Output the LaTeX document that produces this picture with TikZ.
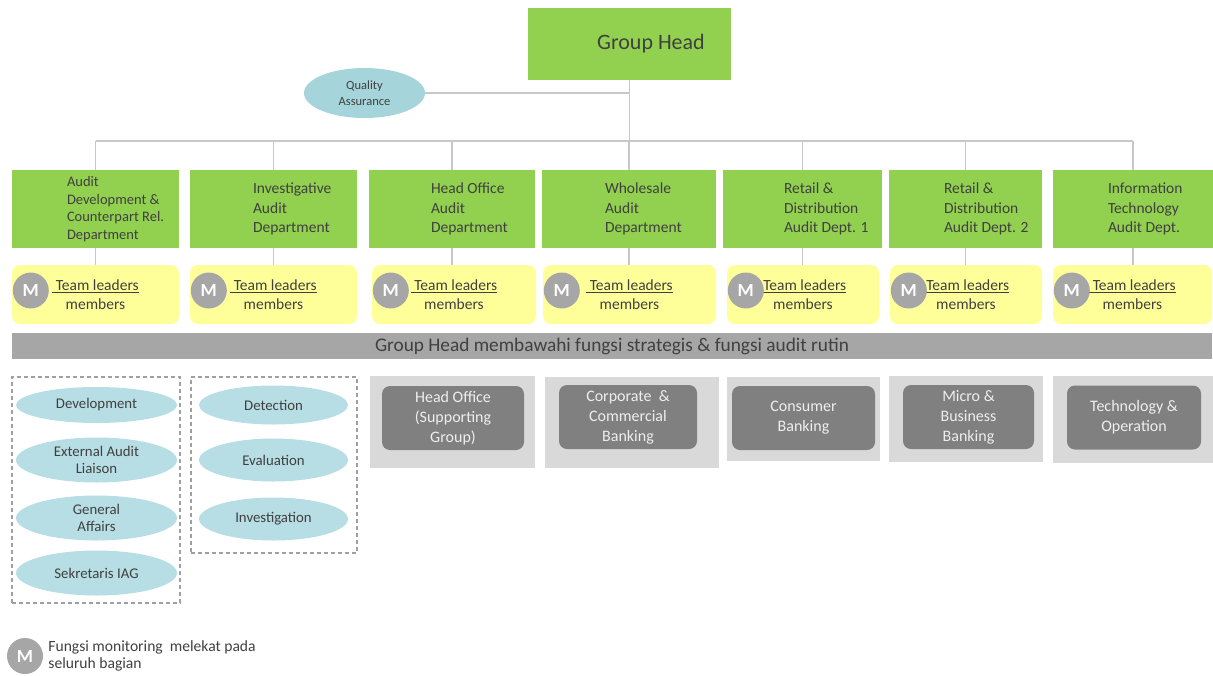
\documentclass[tikz,border=0pt]{standalone}
\usepackage{fontspec}
\setmainfont{Carlito}
\usetikzlibrary{shapes.geometric}

\definecolor{deptgreen}{RGB}{146,208,80}
\definecolor{textgray}{RGB}{64,64,64}
\definecolor{linegray}{RGB}{200,200,200}
\definecolor{teamyellow}{RGB}{255,255,153}
\definecolor{mgray}{RGB}{166,166,166}
\definecolor{bannergray}{RGB}{166,166,166}
\definecolor{qateal}{RGB}{165,213,218}
\definecolor{unitteal}{RGB}{183,222,228}
\definecolor{panelgray}{RGB}{217,217,217}
\definecolor{seggray}{RGB}{128,128,128}
\definecolor{segtext}{RGB}{238,238,238}
\definecolor{dashgray}{RGB}{160,160,160}

\tikzset{
  conn/.style={draw=linegray, line width=1.5pt},
  deptbox/.style={fill=deptgreen, minimum height=78pt, inner sep=0pt},
  depttext/.style={anchor=west, align=left, inner sep=0pt, text=textgray, font=\fontsize{15.5}{19.5}\selectfont},
  teambox/.style={fill=teamyellow, rounded corners=8pt, minimum height=59pt, inner sep=0pt, align=center, text=textgray, font=\fontsize{15.5}{19}\selectfont},
  mcirc/.style={circle, fill=mgray, minimum size=36pt, inner sep=0pt, text=white, font=\fontsize{18.5}{18.5}\selectfont\bfseries},
  unitellipse/.style={ellipse, fill=unitteal, inner sep=0pt, align=center, text=textgray, font=\fontsize{14.8}{17.5}\selectfont},
  panel/.style={fill=panelgray, inner sep=0pt},
  segbox/.style={fill=seggray, rounded corners=8pt, inner sep=0pt, align=center, text=segtext, font=\fontsize{16}{20}\selectfont},
  groupbox/.style={draw=dashgray, line width=1.5pt, dash pattern=on 4pt off 3pt, inner sep=0pt},
}

\begin{document}
\begin{tikzpicture}[x=1pt, y=-1pt]
    \useasboundingbox (0,0) rectangle (1213,675);

    % Head and quality assurance
    \node[fill=deptgreen, minimum width=203pt, minimum height=72pt, inner sep=0pt, text=textgray, font=\fontsize{22}{24}\selectfont] (gh) at (629.5,44) {\hspace*{43pt}Group Head};
    \node[ellipse, fill=qateal, minimum width=121pt, minimum height=50pt, inner sep=0pt, align=center, text=textgray, font=\fontsize{12.5}{15.7}\selectfont] (qa) at (364.5,93) {Quality\\Assurance};
    \coordinate (bus) at (629.5,141);
    \draw[conn] (qa.east) -- (qa.east -| gh.south);
    \draw[conn] (gh.south) -- (bus);

    % Departments
    \node[deptbox, minimum width=167pt] (d1) at (95.5,209) {};
    \node[depttext, font=\fontsize{14.5}{17.5}\selectfont] (t1) at ([xshift=55pt]d1.west) {Audit\\Development \&\\Counterpart Rel.\\Department};
    \foreach \i/\cx/\w/\dx/\txt in {2/273.5/167/63/{Investigative\\Audit\\Department},
                                    3/452/166/62/{Head Office\\Audit\\Department},
                                    4/629/174/63/{Wholesale\\Audit\\Department},
                                    5/802.5/159/61/{Retail \&\\Distribution\\Audit Dept. 1},
                                    6/965.5/153/55/{Retail \&\\Distribution\\Audit Dept. 2},
                                    7/1133/160/55/{Information\\Technology\\Audit Dept.}} {
        \node[deptbox, minimum width=\w pt] (d\i) at (\cx,209) {};
        \node[depttext] (t\i) at ([xshift=\dx pt]d\i.west) {\txt};
    }
    \draw[conn] (d1.north |- bus) -- (d7.north |- bus);
    \foreach \i in {1,...,7} {
        \draw[conn] (d\i.north |- bus) -- (d\i.north);
    }

    % Team leaders with monitoring
    \foreach \i/\cx/\w in {1/95.5/167, 2/273.5/167, 3/454/164, 4/629.5/173, 5/803/152, 6/966/152, 7/1132.5/159} {
        \node[teambox, minimum width=\w pt] (y\i) at (\cx,294.5) {\underline{\ Team leaders}\\members};
        \node[mcirc] (m\i) at ([xshift=19pt, yshift=4pt]y\i.west) {M};
        \draw[conn] (d\i.south) -- (d\i.south |- y\i.north);
    }

    % Banner
    \node[fill=bannergray, minimum width=1200pt, minimum height=26pt, inner sep=0pt, text=textgray, font=\fontsize{19.3}{20}\selectfont] (band) at (612,346) {Group Head membawahi fungsi strategis \& fungsi audit rutin};

    % Functions of the first two departments
    \node[groupbox, minimum width=168pt, minimum height=226pt] (g1) at (96,490) {};
    \node[groupbox, minimum width=166pt, minimum height=176pt] (g2) at (274,465) {};
    \foreach \i/\cy/\h/\txt in {1/405/36/Development, 2/460/45/{External Audit\\Liaison}, 3/518/45/{General\\Affairs}, 4/573/45/Sekretaris IAG} {
        \node[unitellipse, minimum width=161pt, minimum height=\h pt] (a\i) at (96.5,\cy) {\txt};
    }
    \foreach \i/\cy/\h/\txt in {1/405/39/Detection, 2/460/43/Evaluation, 3/519/43/Investigation} {
        \node[unitellipse, minimum width=149pt, minimum height=\h pt] (b\i) at (273.5,\cy) {\txt};
    }

    % Segments covered
    \foreach \i/\px/\pw/\py/\ph/\sx/\sw/\sy/\txt in {1/452.5/165/422/92/453/142/418/{Head Office\\(Supporting\\Group)},
                                                    2/632/174/422.5/91/628/138/417/{Corporate~ \&\\Commercial\\Banking},
                                                    3/803.5/153/419/84/803.5/143/418/{Consumer\\Banking},
                                                    4/966/154/419/86/968.5/131/417/{Micro \&\\Business\\Banking},
                                                    5/1133/160/419.5/87/1134/134/417.5/{Technology \&\\Operation}} {
        \node[panel, minimum width=\pw pt, minimum height=\ph pt] (p\i) at (\px,\py) {};
        \node[segbox, minimum width=\sw pt, minimum height=64pt] (s\i) at (\sx,\sy) {\txt};
    }

    % Legend
    \node[mcirc] (mkey) at (25,656) {M};
    \node[anchor=west, align=left, inner sep=0pt, text=textgray, font=\fontsize{15.6}{17.5}\selectfont] (key) at ([xshift=5pt]mkey.east) {Fungsi monitoring~ melekat pada\\seluruh bagian};
\end{tikzpicture}
\end{document}
